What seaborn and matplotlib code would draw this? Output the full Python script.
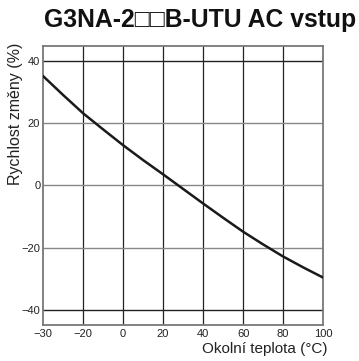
import numpy as np
import pandas as pd
import matplotlib
matplotlib.use('Agg')
import matplotlib.pyplot as plt
import seaborn as sns

# data
teplota = [-30, -25, -20, -10, 0, 10, 20, 30, 40, 50, 60, 70, 80, 90, 100]
zmena = [35.3, 29.2, 23.3, 18.1, 13.0, 8.2, 3.6, -1.1, -5.8, -10.4, -14.9, -19.0, -22.9, -26.4, -29.7]
x_ticks = [-30, -20, 0, 20, 40, 60, 80, 100]
y_ticks = [-40, -20, 0, 20, 40]

sns.set_theme(style='white')
plt.rcParams['font.family'] = ['Liberation Sans', 'DejaVu Sans']


# the x axis has -30..-20 squeezed to the same width as the 20-degree steps
def fwd(x):
    x = np.asarray(x, dtype=float)
    return np.where(x < -20, (x + 30) / 10.0, 1 + (x + 20) / 20.0)


def inv(p):
    p = np.asarray(p, dtype=float)
    return np.where(p < 1, p * 10.0 - 30, (p - 1) * 20.0 - 20)


df = pd.DataFrame({'t': teplota, 'r': zmena})

fig = plt.figure(figsize=(3.59, 3.61), dpi=100)
ax = fig.add_axes([0.120, 0.0997, 0.780, 0.7729])
ax.set_xscale('function', functions=(fwd, inv))

for v in x_ticks[1:-1]:
    ax.axvline(v, color='#222222', lw=0.9, zorder=1)
for v in y_ticks:
    ax.axhline(v, color='#222222' if abs(v) == 40 else '#888888', lw=1.0, zorder=1)

sns.lineplot(data=df, x='t', y='r', ax=ax, color='#1a1a1a', lw=1.8, zorder=3)

ax.set_xlim(-30, 100)
ax.set_ylim(-45, 45)
ax.set_xticks(x_ticks)
ax.set_xticklabels([str(v).replace('-', '\u2212') for v in x_ticks])
ax.set_yticks(y_ticks)
ax.set_yticklabels([str(v).replace('-', '\u2212') for v in y_ticks])
ax.tick_params(axis='both', length=0, labelsize=8, colors='#222222')
ax.tick_params(axis='x', pad=3)
ax.tick_params(axis='y', pad=2)
ax.minorticks_off()

for s in ax.spines.values():
    s.set_color('#777777')
    s.set_linewidth(1.3)

ax.set_xlabel('Okolní teplota (°C)', fontsize=11, loc='right', color='#222222')
ax.xaxis.set_label_coords(1.014, -0.062)
ax.set_ylabel('Rychlost změny (%)', fontsize=11.5, loc='top', color='#222222')
ax.yaxis.set_label_coords(-0.071, 1.011)

fig.text(0.557, 0.925, 'G3NA-2\u25a1\u25a1B-UTU AC vstup', ha='center', va='baseline',
         fontsize=17.8, fontweight='bold', color='#111111')

fig.savefig('out.png', dpi=100)
